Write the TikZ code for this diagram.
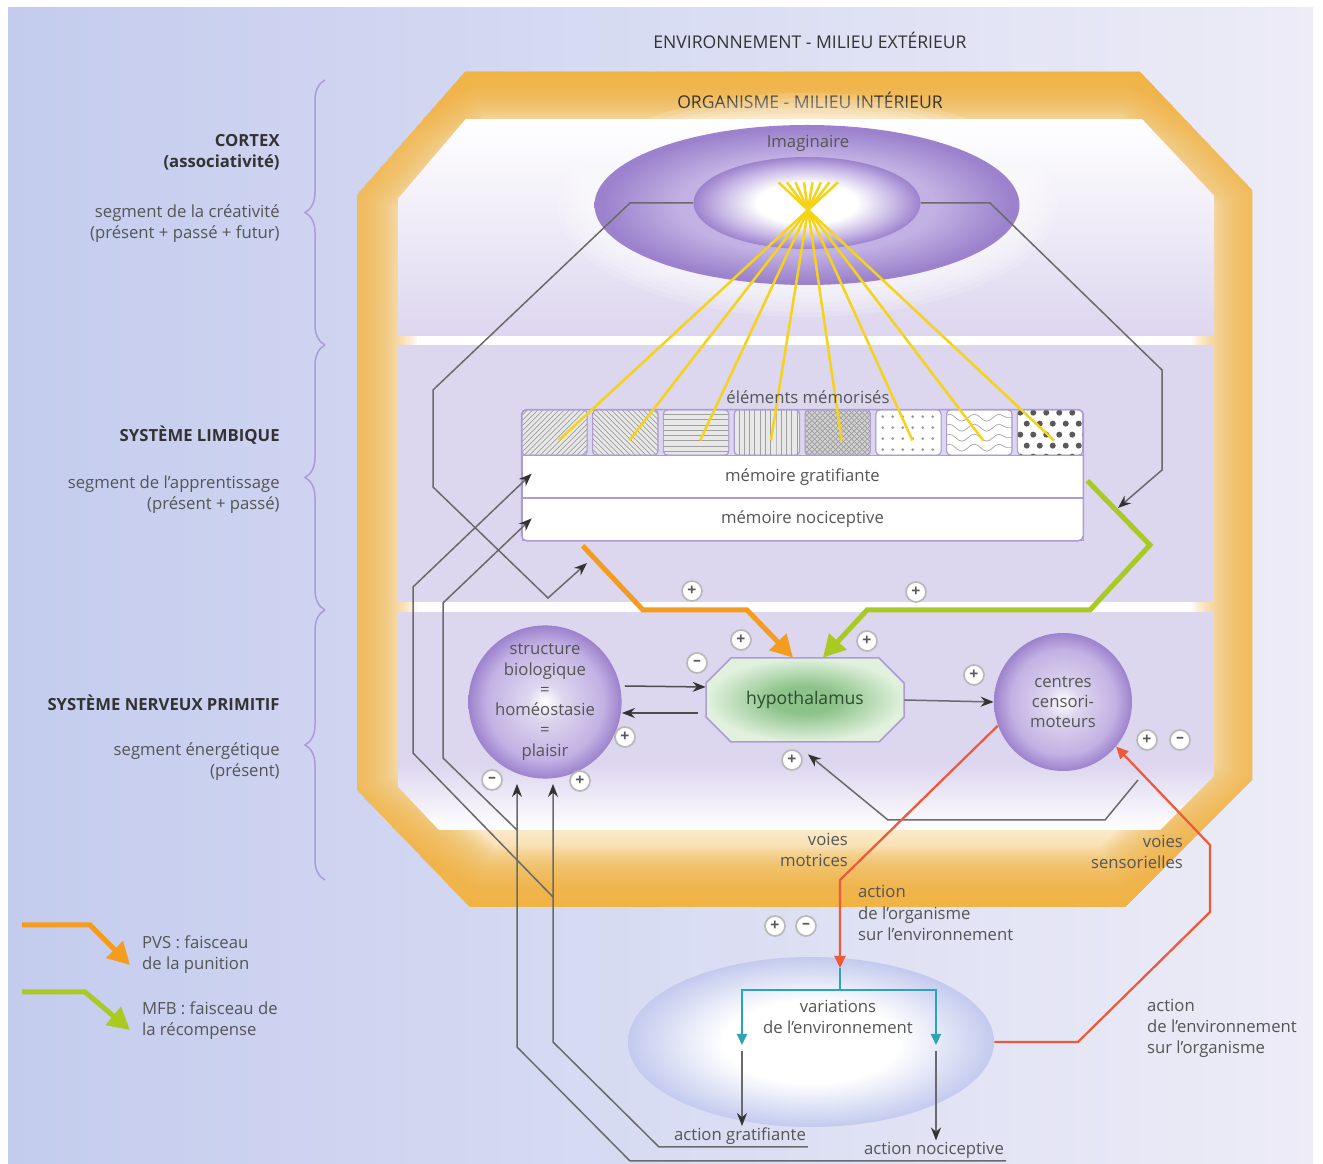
\documentclass[tikz,border=0pt]{standalone}
\usepackage{fontspec}
\setmainfont{Open Sans}
\usepackage{tikz}
\usetikzlibrary{positioning, arrows.meta, calc, patterns, shapes.geometric}
\usetikzlibrary{decorations.pathreplacing, decorations.pathmorphing}

\definecolor{bgleft}{HTML}{C4CCEE}
\definecolor{bgright}{HTML}{EDECF7}
\definecolor{orgorange}{HTML}{F0B445}
\definecolor{lav}{HTML}{DDD6EF}
\definecolor{lavmid}{HTML}{C2B1E3}
\definecolor{purp}{HTML}{9C82CD}
\definecolor{boxedge}{HTML}{AC9BD6}
\definecolor{txt}{HTML}{555555}
\definecolor{txtdark}{HTML}{333333}
\definecolor{wiregrey}{HTML}{6A6A6A}
\definecolor{ray}{HTML}{F4D318}
\definecolor{pvscol}{HTML}{F39C1F}
\definecolor{mfbcol}{HTML}{A9C923}
\definecolor{voiered}{HTML}{EC5A3A}
\definecolor{splitteal}{HTML}{2BA5B5}
\definecolor{envblue}{HTML}{C3CAEE}
\definecolor{hypoin}{HTML}{8CC38A}
\definecolor{hypoout}{HTML}{E2F1DE}
\definecolor{hypotxt}{HTML}{2F4A2F}

\pgfdeclareradialshading{ballshade}{\pgfpoint{0bp}{0bp}}{color(0bp)=(white); color(6bp)=(lav); color(19bp)=(lavmid); color(25bp)=(purp); color(50bp)=(purp)}
\pgfdeclareradialshading{imagshade}{\pgfpoint{0bp}{0bp}}{color(0bp)=(lavmid); color(15bp)=(lavmid); color(24bp)=(purp); color(50bp)=(purp)}
\pgfdeclareradialshading{innershade}{\pgfpoint{0bp}{0bp}}{color(0bp)=(white); color(11bp)=(white); color(20bp)=(lavmid); color(25bp)=(purp); color(50bp)=(purp)}
\pgfdeclareradialshading{envshade}{\pgfpoint{0bp}{0bp}}{color(0bp)=(white); color(12bp)=(white); color(25bp)=(envblue); color(50bp)=(envblue)}
\pgfdeclareradialshading{hyposhade}{\pgfpoint{0bp}{0bp}}{color(0bp)=(hypoin); color(8bp)=(hypoin); color(25bp)=(hypoout); color(50bp)=(hypoout)}

\newcommand{\orgoutline}{(465,72) -- (1140,72) -- (1252,190) -- (1252,780) -- (1125,907) -- (470,907) -- (357,790) -- (357,195) -- cycle}
\newcommand{\orginner}{(482,100) -- (1124,100) -- (1220,202) -- (1220,770) -- (1112,878) -- (484,878) -- (390,778) -- (390,208) -- cycle}

\begin{document}
\begin{tikzpicture}[
    x=0.2mm, y=-0.2mm,
    lbl/.style={font=\fontsize{9.5}{12}\selectfont, text=txt, align=center, inner sep=1pt},
    heading/.style={font=\fontsize{10}{12}\selectfont, text=txtdark},
    sidetitle/.style={font=\fontsize{9.5}{12}\selectfont\bfseries, text=txtdark, align=right, anchor=east, inner sep=0pt},
    sidenote/.style={font=\fontsize{9.5}{12}\selectfont, text=txt, align=right, anchor=east, inner sep=0pt},
    ball/.style={circle, minimum size=27.6mm, inner sep=0pt, shade, shading=ballshade,
        font=\fontsize{9.5}{11.5}\selectfont, text=txt, align=center},
    membox/.style={draw=boxedge, rounded corners=0.8mm, minimum width=13mm, minimum height=9mm, inner sep=0pt},
    memrow/.style={draw=boxedge, fill=white, minimum width=112.2mm, minimum height=8.4mm, inner sep=0pt,
        font=\fontsize{9.5}{12}\selectfont, text=txt},
    wire/.style={draw=wiregrey, line width=0.3mm},
    wirearrow/.style={wire, -{Stealth[length=2.6mm, width=2mm, color=black!80]}},
    pvsarrow/.style={draw=pvscol, line width=1mm, -{Triangle[length=4.4mm, width=4.6mm]}},
    mfbarrow/.style={draw=mfbcol, line width=1mm, -{Triangle[length=4.4mm, width=4.6mm]}},
    voie/.style={draw=voiered, line width=0.45mm},
    tealline/.style={draw=splitteal, line width=0.4mm},
    signnode/.style={circle, draw=gray!55, fill=white, line width=0.35mm, minimum size=4mm,
        inner sep=0pt, text=gray!70!black, font=\small\bfseries},
]

\useasboundingbox (0,0) rectangle (1323,1164);

% ==========================================
% BACKGROUND
% ==========================================
\fill[white] (0,0) rectangle (1323,1164);
\shade[left color=bgleft, right color=bgright] (8,8) rectangle (1313,1164);

% Organism octagon (orange rim fading inwards)
\fill[white] \orgoutline;
\begin{scope}
    \clip \orgoutline;
    \shade[top color=orgorange!85, bottom color=white] (357,72) rectangle (1252,140);
    \shade[top color=white, bottom color=orgorange!85] (357,790) rectangle (1252,907);
    \foreach \w in {24,23,...,1} {
        \draw[orgorange, opacity=0.075, line width=\w mm, line join=miter] \orgoutline;
    }
    % Bands
    \clip \orginner;
    \shade[top color=white, bottom color=lav] (398,120) rectangle (1214,336);
    \fill[lav] (398,345) rectangle (1214,602);
    \fill[lav] (398,612) rectangle (1214,765);
    \shade[top color=lav, bottom color=white] (398,764) rectangle (1214,830);
\end{scope}

% Headings
\node[heading] (envlbl) at (810,40) {ENVIRONNEMENT - MILIEU EXTÉRIEUR};
\node[heading] (orglbl) at (810,100) {ORGANISME - MILIEU INTÉRIEUR};

% ==========================================
% SIDE LABELS
% ==========================================
\node[sidetitle] (cortex) at (280,152) {CORTEX\\(associativité)};
\node[sidenote] (cortseg) at (280,224) {segment de la créativité\\(présent + passé + futur)};
\node[sidetitle] (limbic) at (280,435) {SYSTÈME LIMBIQUE};
\node[sidenote] (limbseg) at (280,495) {segment de l'apprentissage\\(présent + passé)};
\node[sidetitle] (primitive) at (280,703) {SYSTÈME NERVEUX PRIMITIF};
\node[sidenote] (primseg) at (280,762) {segment énergétique\\(présent)};

% Braces
\draw[boxedge, line width=0.3mm, decorate, decoration={brace, amplitude=4mm}] (325,345) -- (325,80);
\draw[boxedge, line width=0.3mm, decorate, decoration={brace, amplitude=4mm}] (325,610) -- (325,345);
\draw[boxedge, line width=0.3mm, decorate, decoration={brace, amplitude=4mm}] (325,880) -- (325,610);

% ==========================================
% CORTEX
% ==========================================
\foreach \k in {0,...,5} {
    \fill[white, opacity=0.14] (807,205) ellipse [x radius={250-6*\k}, y radius={112-5*\k}];
}
\node[ellipse, minimum width=85mm, minimum height=32mm, shade, shading=imagshade] (imag) at (807,205) {};
\node[ellipse, minimum width=45.4mm, minimum height=18.4mm, shade, shading=innershade] (imagin) at (807,203) {};
\node[lbl] (imaglbl) at (808,143) {Imaginaire};
\coordinate (apex) at (808,210);

% ==========================================
% LIMBIC SYSTEM
% ==========================================

% Memorised elements
\foreach \i/\pat/\fil in {1/north east lines/gray!18, 2/north west lines/gray!18,
        3/horizontal lines/gray!18, 4/vertical lines/gray!18, 5/crosshatch/gray!35} {
    \node[membox, preaction={fill=\fil}, pattern=\pat, pattern color=gray!75] (m\i) at ({483.7+70.8*\i}, 432.5) {};
}
\foreach \i in {6,7,8} {
    \node[membox, fill=white] (m\i) at ({483.7+70.8*\i}, 432.5) {};
}
% dots
\foreach \c in {0,...,5} \foreach \r in {0,...,3} {
    \fill[gray!80] ($(m6.north west)+({7+10*\c},{7+11*\r})$) circle (0.3mm);
}
% waves
\begin{scope}
    \clip[rounded corners=0.8mm] (m7.north west) rectangle (m7.south east);
    \foreach \r in {0,...,3} {
        \draw[gray!70, decorate, decoration={snake, amplitude=0.7mm, segment length=5mm}]
            ($(m7.north west)+(-5,{8+10*\r})$) -- ($(m7.north east)+(5,{8+10*\r})$);
    }
\end{scope}
% polka dots
\begin{scope}
    \clip[rounded corners=0.8mm] (m8.north west) rectangle (m8.south east);
    \foreach \r in {0,...,4} \foreach \c in {0,...,5} {
        \fill[gray!70!black] ($(m8.north west)+({3+13*\c+6.5*mod(\r,2)},{3+11*\r})$) circle (0.6mm);
    }
\end{scope}
\foreach \i in {1,...,8} {
    \draw[boxedge, rounded corners=0.8mm] (m\i.north west) rectangle (m\i.south east);
}

% Memory rows
\node[memrow, anchor=north west] (grat) at (m1.south west) {mémoire gratifiante};
\node[memrow, anchor=north] (noci) at (grat.south) {mémoire nociceptive};
\draw[boxedge, line width=0.3mm, rounded corners=1mm] (m1.north west) rectangle (noci.south east);

% Rays from the imaginary
\foreach \i in {1,...,8} {
    \coordinate (r\i) at ($(m\i.center)+(4,8)$);
    \draw[ray, line width=0.5mm] ($(apex)!-0.12!(r\i)$) -- (r\i);
}
\node[lbl] (memlbl) at (808,397) {éléments mémorisés};

% ==========================================
% PRIMITIVE NERVOUS SYSTEM
% ==========================================
\node[ball] (struc) at (545,702) {structure\\biologique\\=\\homéostasie\\=\\plaisir};
\node[ball] (centres) at (1063,702) {centres\\censori-\\moteurs};

% Hypothalamus (chamfered box, then its label)
\coordinate (hypoc) at (805,700);
\shade[shading=hyposhade, draw=boxedge, line width=0.3mm]
    ($(hypoc)+(-74,-42)$) -- ($(hypoc)+(74,-42)$) -- ($(hypoc)+(99,-17)$) -- ($(hypoc)+(99,17)$)
    -- ($(hypoc)+(74,42)$) -- ($(hypoc)+(-74,42)$) -- ($(hypoc)+(-99,17)$) -- ($(hypoc)+(-99,-17)$) -- cycle;
\node[minimum width=39.6mm, minimum height=16.8mm, inner sep=0pt,
      font=\fontsize{10}{12}\selectfont, text=hypotxt] (hypo) at (hypoc) {hypothalamus};

% Connecting Arrows
\draw[wirearrow, draw=black!70] ($(struc.east)+(3,-16)$) -- ($(hypo.west)+(0,-13)$);
\draw[wirearrow, draw=black!70] ($(hypo.west)+(-8,13)$) -- ($(struc.east)+(0,11)$);
\draw[wirearrow] (hypo.east) -- (centres.west);
\coordinate (cmback) at (1138,780);
\draw[wirearrow] (cmback) -- (1105,820) -- (888,820) -- ($(hypo.south)+(3,12)$);

% Bundles (PVS, MFB)
\draw[pvsarrow] ($(noci.south west)+(61,5)$) -- (643,610) -- (747,610) -- ($(hypo.north)+(-12,0)$);
\draw[mfbarrow] ($(grat.east)+(4,4)$) -- (1150,545) -- (1090,610) -- (867,610) -- ($(hypo.north)+(18,0)$);

% Cortex loops
\coordinate (cortL) at (587,563);
\coordinate (cortR) at (1118,508);
\draw[wirearrow] (imagin.west) -- (630,203) -- (433,390) -- (433,487) -- (548,598) -- (cortL);
\draw[wirearrow] (imagin.east) -- (990,203) -- (1162,370) -- (1162,470) -- (cortR);

% ==========================================
% ENVIRONMENT
% ==========================================
\node[ellipse, minimum width=73.2mm, minimum height=34mm, shade, shading=envshade] (envell) at (811,1042) {};
\node[lbl] (varlbl) at (838,1017) {variations\\de l'environnement};
\node[lbl, anchor=south] (actgrat) at (740,1147) {action gratifiante};
\node[lbl, anchor=south] (actnoci) at (934,1161) {action nociceptive};

% Motor and sensory pathways
\coordinate (redtip) at (840,968);
\coordinate (split) at (840,990);
\coordinate (tealL) at (742,1045);
\coordinate (tealR) at (936,1045);
\draw[voie, -{Triangle[length=2.4mm, width=2.2mm]}] (centres.200) -- (840,880) -- (redtip);
\draw[voie, -{Triangle[length=2.4mm, width=2.2mm]}] (envell.east) -- (1078,1042) -- (1210,912) -- (1210,845) -- (centres.-40);
\draw[tealline] (redtip) -- (split);
\draw[tealline, -{Triangle[length=2.2mm, width=2mm]}] (split) -| (tealL);
\draw[tealline, -{Triangle[length=2.2mm, width=2mm]}] (split) -| (tealR);
\draw[wirearrow] ($(tealL)+(0,6)$) -- (tealL |- actgrat.north);
\draw[wirearrow] ($(tealR)+(0,6)$) -- (tealR |- actnoci.north);

% Feedback to memory and structure
\coordinate (grattip) at ($(struc.south)+(8,5)$);
\coordinate (nocitip) at ($(struc.south)+(-28,5)$);
\draw[wirearrow] (actgrat.south east) -- (659,1147) -- (553,1042) -- (grattip);
\draw[wirearrow] (553,897) -- (413,753) -- (413,587) -- ($(grat.west)+(10,-3)$);
\draw[wirearrow] (actnoci.south east) -- (630,1161) -- (517,1047) -- (nocitip);
\draw[wirearrow] (517,830) -- (443,758) -- (443,603) -- ($(noci.west)+(10,-1)$);

% Pathway labels
\node[lbl, align=right, anchor=east] (motlbl) at (850,850) {voies\\motrices};
\node[lbl, align=right, anchor=east] (senslbl) at (1185,852) {voies\\sensorielles};
\node[lbl, align=left, anchor=west] (actorg) at (856,913) {action\\de l'organisme\\sur l'environnement};
\node[lbl, align=left, anchor=west] (actenv) at (1145,1028) {action\\de l'environnement\\sur l'organisme};

% ==========================================
% SIGNS
% ==========================================
\foreach \n/\x/\y/\s in {1/692/591/+, 2/916/592/+, 3/741/640/+, 4/867/641/+, 5/697/663/--,
        6/625/737/+, 7/974/675/+, 8/792/760/+, 9/1147/740/+, 10/1180/740/--,
        11/492/780/--, 12/580/781/+, 13/775/926/+, 14/806/926/--} {
    \node[signnode] (s\n) at (\x,\y) {\s};
}

% ==========================================
% LEGEND
% ==========================================
\node[lbl, align=left, anchor=west] (pvstxt) at (140,955) {PVS : faisceau\\de la punition};
\node[lbl, align=left, anchor=west] (mfbtxt) at (140,1021) {MFB : faisceau de\\la récompense};
\draw[pvsarrow] ($(pvstxt.west)+(-118,-30)$) -- ++(68,0) -- ++(40,40);
\draw[mfbarrow] ($(mfbtxt.west)+(-118,-29)$) -- ++(63,0) -- ++(45,38);

\end{tikzpicture}
\end{document}
